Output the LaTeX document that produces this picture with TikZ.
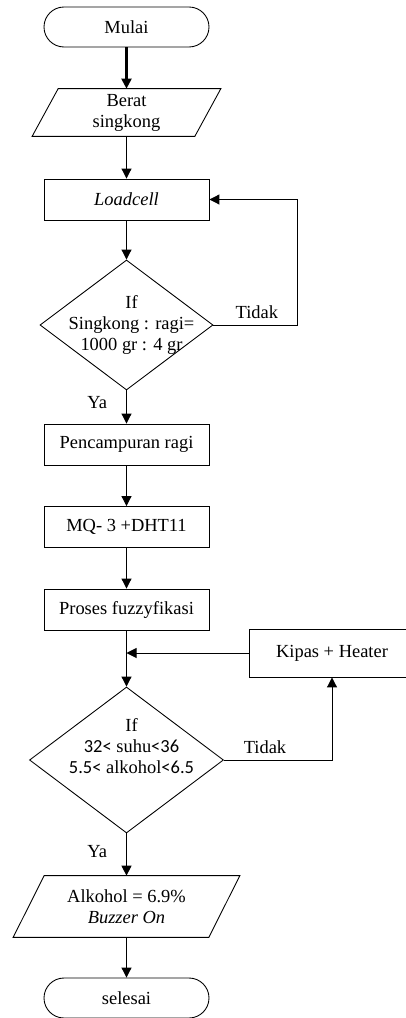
\documentclass[tikz,border=0pt]{standalone}
\usepackage{fontspec}
\setmainfont{Liberation Serif}
\newfontfamily\angka{Carlito}
\usetikzlibrary{shapes.geometric,arrows.meta}

\tikzset{
	kotak/.style={draw, line width=0.5pt, minimum width=3.3cm, minimum height=0.82cm},
	terminal/.style={kotak, rounded corners=0.4cm, minimum height=0.8cm},
	putusan/.style={draw, line width=0.5pt, diamond, inner sep=0pt},
	masukan/.style={minimum width=3.24cm, align=center, inner sep=0pt},
	panah/.style={line width=0.55pt, -{Triangle[length=0.2cm,width=0.2cm]}}
}
% jajar genjang di sekitar node masukan
\newcommand{\jajargenjang}[2]{%
	\draw [line width=0.5pt] ([xshift=#2]#1.north west) -- ([xshift=#2]#1.north east)
		-- ([xshift=-#2]#1.south east) -- ([xshift=-#2]#1.south west) -- cycle;}

\begin{document}
\begin{tikzpicture}[font=\fontsize{10.5}{12}\selectfont]
	\useasboundingbox (0,0) rectangle (8.1,-20.36);

	\node [terminal] (mulai) at (2.53,-0.54) {Mulai};
	\node [masukan, minimum height=0.94cm] (berat) at (2.53,-2.25) {Berat\\singkong};
	\jajargenjang{berat}{0.26cm}
	\node [kotak] (loadcell) at (2.53,-3.99) {\textit{Loadcell}};
	\node [putusan, minimum width=3.46cm, minimum height=2.6cm] (cek1) at (2.53,-6.5) {};
	\node [align=center] (syarat1) at (2.63,-6.5) {If\\Singkong : ragi=\\1000 gr : 4 gr};
	\node [kotak] (campur) at (2.53,-8.89) {Pencampuran ragi};
	\node [kotak] (sensor) at (2.53,-10.54) {MQ- 3 +DHT11};
	\node [kotak] (fuzzy) at (2.53,-12.19) {Proses fuzzyfikasi};
	\node [kotak, minimum width=3.32cm, minimum height=0.96cm] (kipas) at (6.64,-13.06) {Kipas + Heater};
	\node [putusan, minimum width=3.88cm, minimum height=2.92cm] (cek2) at (2.53,-15.2) {};
	\node [align=center] (syarat2) at (2.63,-14.92) {If\\{\angka 32<} suhu{\angka <36}\\{\angka 5.5<} alkohol{\angka <6.5}};
	\node [masukan, minimum width=3.9cm, minimum height=1.22cm] (hasil) at (2.53,-18.13) {Alkohol = 6.9\%\\\textit{Buzzer On}};
	\jajargenjang{hasil}{0.31cm}
	\node [terminal] (selesai) at (2.53,-19.96) {selesai};

	\coordinate (balik1) at (5.94,-6.5);
	\coordinate (gabung) at (2.53,-13.06);
	\coordinate (balik2) at (6.64,-15.2);

	\draw [panah, line width=1.2pt] (mulai.south) -- (berat.north);
	\draw [panah] (berat.south) -- (loadcell.north);
	\draw [panah] (loadcell.south) -- (cek1.north);
	\draw [panah] (cek1.east) -- node [above, pos=0.52] {Tidak} (balik1) |- (loadcell.east);
	\draw [panah] (cek1.south) -- node [left=0.26cm, pos=0.38] {Ya} (campur.north);
	\draw [panah] (campur.south) -- (sensor.north);
	\draw [panah] (sensor.south) -- (fuzzy.north);
	\draw [panah] (fuzzy.south) -- (cek2.north);
	\draw [panah] (kipas.west) -- (gabung);
	\draw [panah] (cek2.east) -- node [above, pos=0.38] {Tidak} (balik2) -- (kipas.south);
	\draw [panah] (cek2.south) -- node [left=0.26cm, pos=0.44] {Ya} (hasil.north);
	\draw [panah] (hasil.south) -- (selesai.north);
\end{tikzpicture}
\end{document}
